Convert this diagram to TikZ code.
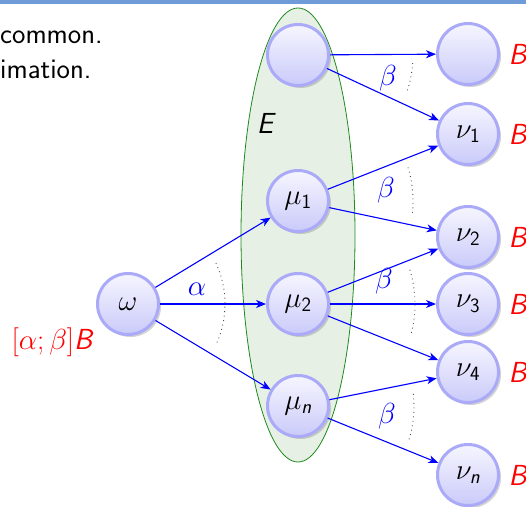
\RequirePackage{fix-cm}
\documentclass[tikz,border=0pt]{standalone}
\usepackage{amsmath}
\usetikzlibrary{arrows.meta,shapes.geometric,shadows}
\definecolor{ttl}{HTML}{6F9BD9}
\definecolor{rim}{HTML}{AAAAF8}
\definecolor{ballhi}{HTML}{F6F6FF}
\definecolor{balllo}{HTML}{CACAFA}
\definecolor{egr}{HTML}{1E8A1E}
\definecolor{efill}{HTML}{E6F0E4}
\newcommand{\sfit}[1]{\text{\sffamily\itshape #1}}
\newcommand{\sfup}[1]{\text{\sffamily #1}}
\tikzset{
  ball/.style={circle,draw=rim,line width=3pt,top color=ballhi,bottom color=balllo,minimum size=61pt,inner sep=0pt,
    drop shadow={opacity=0.35,shadow xshift=2.5pt,shadow yshift=-2.5pt}},
  ar/.style={-{Stealth[length=10pt,width=8pt,inset=3pt]},line width=1.1pt,draw=blue},
  lbl/.style={text=blue,inner sep=0pt},
  bl/.style={text=red,inner sep=0pt},
  txt/.style={anchor=base west,inner sep=0pt,font=\sffamily\fontsize{28.5}{32}\selectfont},
  dots/.style={line width=0.9pt,dash pattern=on 0.9pt off 3.6pt,black!70},
}
\begin{document}
\begin{tikzpicture}[x=1pt,y=-1pt,font=\sffamily\fontsize{29}{34}\selectfont]
\useasboundingbox (0,0) rectangle (526,506);
\fill[ttl] (0,0) rectangle (526,3.5);
\node[txt] (t1) at (0,43) {common.};
\node[txt] (t2) at (0,78) {imation.};
% the set E
\node[ellipse,draw=egr,fill=efill,line width=0.8pt,minimum width=114pt,minimum height=454pt] (eset) at (298,235) {};
\node (elbl) at (265,123) {$\sfit{E}$};
% worlds
\node[ball] (w) at (128,304) {$\omega$};
\node[ball] (m0) at (298,55) {};
\node[ball] (m1) at (298,201) {$\mu_{\sfup{1}}$};
\node[ball] (m2) at (298,304) {$\mu_{\sfup{2}}$};
\node[ball] (mn) at (298,406) {$\mu_{\sfit{n}}$};
\node[ball] (n0) at (468,54) {};
\node[ball] (n1) at (468,134) {$\nu_{\sfup{1}}$};
\node[ball] (n2) at (468,237) {$\nu_{\sfup{2}}$};
\node[ball] (n3) at (468,304) {$\nu_{\sfup{3}}$};
\node[ball] (n4) at (468,372) {$\nu_{\sfup{4}}$};
\node[ball] (nn) at (468,475) {$\nu_{\sfit{n}}$};
\foreach \n in {n0,n1,n2,n3,n4,nn}
  \node[bl,anchor=west] (B\n) at ([xshift=8.5pt]\n.east) {$\sfit{B}$};
% transitions
\foreach \s/\t in {w/m1,w/m2,w/mn,m0/n0,m0/n1,m1/n1,m1/n2,m2/n2,m2/n3,m2/n4,mn/n4,mn/nn}
  \draw[ar] (\s) -- (\t);
\draw[dots] (w) ++(-25:97) arc[start angle=-25,end angle=25,radius=97];
\draw[dots] (m0) ++(4:115) arc[start angle=4,end angle=18,radius=115];
\draw[dots] (m1) ++(-17:115) arc[start angle=-17,end angle=7,radius=115];
\draw[dots] (m2) ++(-17:117) arc[start angle=-17,end angle=15,radius=117];
\draw[dots] (mn) ++(-6:116) arc[start angle=-6,end angle=17,radius=116];
\node[lbl] (la) at (197,289) {$\alpha$};
\node[lbl] (lb1) at (388,78) {$\beta$};
\node[lbl] (lb2) at (386,190) {$\beta$};
\node[lbl] (lb3) at (384,281) {$\beta$};
\node[lbl] (lb4) at (387,416) {$\beta$};
\node[bl] (cl) at (52,342) {$[\alpha;\beta]\sfit{B}$};
\end{tikzpicture}
\end{document}
